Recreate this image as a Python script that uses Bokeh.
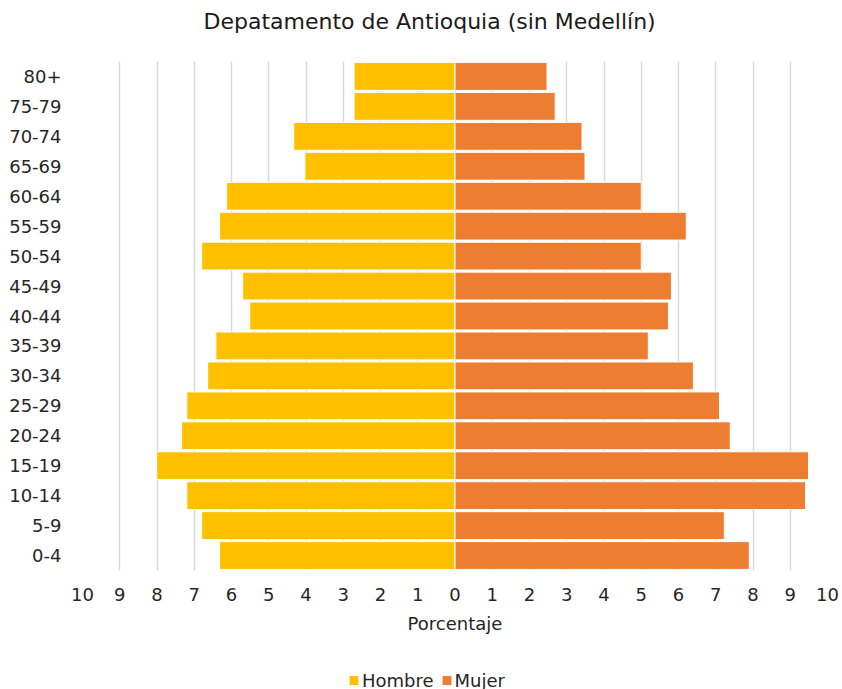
from bokeh.plotting import figure
from bokeh.layouts import column
from bokeh.models import ColumnDataSource, FixedTicker, Legend, LegendItem, Range1d
from bokeh.embed import file_html
from bokeh.resources import INLINE

age_groups = ["0-4", "5-9", "10-14", "15-19", "20-24", "25-29", "30-34", "35-39",
              "40-44", "45-49", "50-54", "55-59", "60-64", "65-69", "70-74", "75-79", "80+"]
hombre = [6.32, 6.80, 7.20, 8.01, 7.34, 7.20, 6.64, 6.42, 5.51, 5.70, 6.80, 6.32, 6.13, 4.03, 4.33, 2.71, 2.71]
mujer = [7.90, 7.23, 9.41, 9.49, 7.39, 7.10, 6.40, 5.19, 5.73, 5.81, 5.00, 6.21, 5.00, 3.49, 3.41, 2.69, 2.47]
x_ticks = list(range(-10, 11))
series_names = ["Hombre", "Mujer"]
series_colors = ["#FFC000", "#ED7D31"]
title_text = "Depatamento  de Antioquia (sin Medellín)"

FONT = "DejaVu Sans"
TXT = "#262626"

src = ColumnDataSource(dict(
    age=age_groups,
    h_left=[-v for v in hombre],
    zero=[0] * len(age_groups),
    m_right=mujer,
))

# title strip (frames of a column are aligned, so borders match the main chart)
tf = figure(width=842, height=61, title=title_text,
            output_backend="svg", toolbar_location=None,
            x_axis_type=None, y_axis_type=None,
            min_border_left=82, min_border_right=15, min_border_top=33, min_border_bottom=0)
tf.title.align = "left"
tf.title.offset = 121
tf.title.standoff = 0
tf.title.text_font = FONT
tf.title.text_font_size = "22px"
tf.title.text_font_style = "normal"
tf.title.text_color = "#1a1a1a"
tf.outline_line_color = None

# main chart
p = figure(width=842, height=599, y_range=age_groups, x_range=Range1d(-10, 10),
           output_backend="svg", toolbar_location=None,
           min_border_left=82, min_border_right=15, min_border_top=0, min_border_bottom=90)

p.hbar(y="age", left="h_left", right="zero", height=0.93, source=src,
       fill_color=series_colors[0], line_color="white", line_width=1)
p.hbar(y="age", left="zero", right="m_right", height=0.93, source=src,
       fill_color=series_colors[1], line_color="white", line_width=1)

p.xaxis.ticker = FixedTicker(ticks=x_ticks)
p.xaxis.major_label_overrides = {t: str(abs(t)) for t in x_ticks}
p.xaxis.axis_label = "Porcentaje"
p.xaxis.axis_label_text_font = FONT
p.xaxis.axis_label_text_font_style = "normal"
p.xaxis.axis_label_text_font_size = "18px"
p.xaxis.axis_label_text_color = TXT
p.xaxis.axis_label_standoff = 9
p.xaxis.major_label_standoff = 11

for ax in (p.xaxis, p.yaxis):
    ax.axis_line_color = None
    ax.major_tick_line_color = None
    ax.minor_tick_line_color = None
    ax.major_label_text_font = FONT
    ax.major_label_text_font_size = "18px"
    ax.major_label_text_color = TXT
p.yaxis.major_label_standoff = 15

p.xgrid.ticker = FixedTicker(ticks=x_ticks)
p.xgrid.grid_line_color = "#d9d9d9"
p.xgrid.grid_line_width = 1.5
p.ygrid.grid_line_color = None
p.y_range.range_padding = 0
p.outline_line_color = None

# legend strip below the chart (renderers hidden, only their legend glyphs are drawn)
lg = figure(width=842, height=29, x_range=Range1d(-10, 10), y_range=age_groups,
            output_backend="svg", toolbar_location=None,
            x_axis_type=None, y_axis_type=None,
            min_border_left=82, min_border_right=15, min_border_top=11, min_border_bottom=0)
lg.outline_line_color = None
r_h = lg.hbar(y="age", left="h_left", right="zero", height=0.9, source=src,
              fill_color=series_colors[0], line_color=None, visible=False)
r_m = lg.hbar(y="age", left="zero", right="m_right", height=0.9, source=src,
              fill_color=series_colors[1], line_color=None, visible=False)
legend = Legend(items=[LegendItem(label=series_names[0], renderers=[r_h]),
                       LegendItem(label=series_names[1], renderers=[r_m])],
                orientation="horizontal", location="center_left")
legend.label_text_font = FONT
legend.label_text_font_size = "18px"
legend.label_text_color = TXT
legend.glyph_width = 11
legend.glyph_height = 11
legend.label_standoff = 3
legend.spacing = 7
legend.label_height = 11
legend.border_line_color = None
legend.background_fill_alpha = 0
legend.inactive_fill_alpha = 0
legend.margin = 266
legend.padding = 0
lg.add_layout(legend, "center")

layout = column(tf, p, lg, spacing=0)
open("out.html", "w").write(file_html(layout, INLINE))
